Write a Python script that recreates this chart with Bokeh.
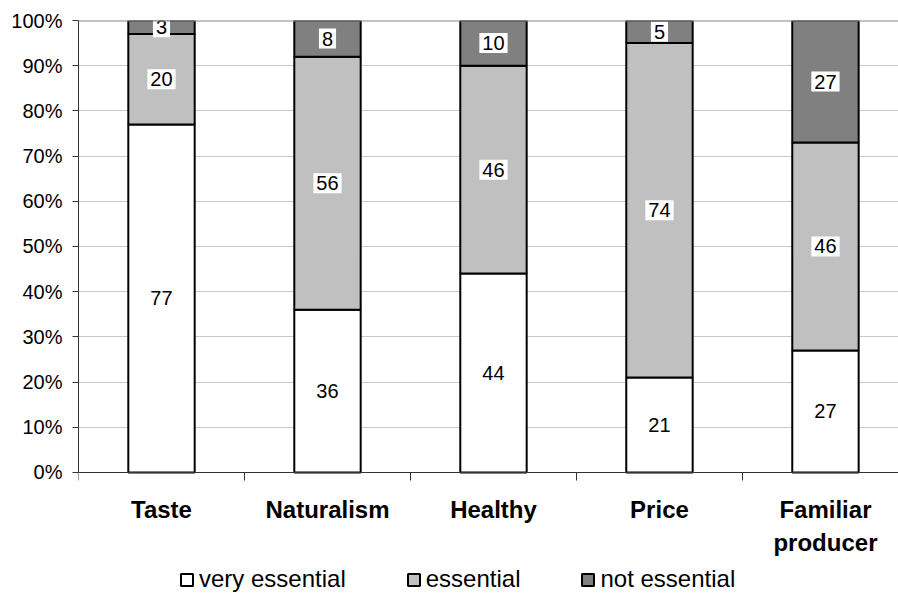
from bokeh.plotting import figure
from bokeh.models import (ColumnDataSource, Range1d, FixedTicker, PrintfTickFormatter,
                          Legend, LegendItem, Span)
from bokeh.core.properties import value
from bokeh.embed import file_html
from bokeh.resources import INLINE

# ---- data ----
categories = ["Taste", "Naturalism", "Healthy", "Price", "Familiar\nproducer"]
very_essential = [77, 36, 44, 21, 27]
essential = [20, 56, 46, 74, 46]
not_essential = [3, 8, 10, 5, 27]
series_names = ["very essential", "essential", "not essential"]
series_keys = ["very_ess", "ess", "not_ess"]
colors = ["#FFFFFF", "#C0C0C0", "#808080"]
y_ticks = list(range(0, 101, 10))

FONT = "Liberation Sans"

x = list(range(len(categories)))
source = ColumnDataSource(dict(x=x, very_ess=very_essential, ess=essential, not_ess=not_essential))

# frame spans the whole lower part of the picture; the value axis covers 0..100 only
p = figure(width=898, height=594, output_backend="svg", toolbar_location=None,
           x_range=Range1d(-0.5, 4.44), y_range=Range1d(-27.0, 100),
           min_border_left=78, min_border_top=20, min_border_right=0, min_border_bottom=0)
p.outline_line_color = None
p.background_fill_color = "white"

renderers = p.vbar_stack(series_keys, x="x", width=0.4, fill_color=colors,
                         line_color="black", line_width=2, source=source)

# top line
p.add_layout(Span(location=y_ticks[-1], dimension="width", line_color="#888888", line_width=2))

# data labels
lx, ly, lt = [], [], []
for i in range(len(categories)):
    bottom = 0
    for vals in (very_essential, essential, not_essential):
        v = vals[i]
        lx.append(x[i]); ly.append(bottom + v / 2); lt.append(str(v))
        bottom += v
lsrc = ColumnDataSource(dict(x=lx, y=ly, t=lt))
p.text(x="x", y="y", text="t", source=lsrc, text_align="center", text_baseline="middle",
       text_font=value(FONT), text_font_size="20px", text_color="black",
       background_fill_color="white", padding=3)

# y axis
p.yaxis.ticker = FixedTicker(ticks=y_ticks)
p.yaxis.bounds = (y_ticks[0], y_ticks[-1])
p.yaxis.formatter = PrintfTickFormatter(format="%d%%")
p.yaxis.major_label_text_font = FONT
p.yaxis.major_label_text_font_size = "20px"
p.yaxis.major_label_text_color = "black"
p.yaxis.major_tick_out = 6
p.yaxis.major_tick_in = 0
p.yaxis.minor_tick_line_color = None
p.yaxis.major_label_standoff = 10
p.yaxis.axis_line_color = "#333333"
p.yaxis.major_tick_line_color = "#333333"

# x axis (drawn at the 0% line)
p.xaxis.fixed_location = y_ticks[0]
p.xaxis.ticker = FixedTicker(ticks=x, minor_ticks=[i - 0.5 for i in range(len(categories) + 1)])
p.xaxis.major_label_overrides = {i: c for i, c in zip(x, categories)}
p.xaxis.major_tick_out = 0
p.xaxis.major_tick_in = 0
p.xaxis.major_tick_line_color = None
p.xaxis.minor_tick_out = 8
p.xaxis.minor_tick_in = 0
p.xaxis.minor_tick_line_color = "#333333"
p.xaxis.axis_line_color = "#333333"
p.xaxis.major_label_standoff = 16
p.xaxis.major_label_text_font = FONT
p.xaxis.major_label_text_font_size = "24px"
p.xaxis.major_label_text_font_style = "bold"
p.xaxis.major_label_text_color = "black"

p.ygrid.ticker = FixedTicker(ticks=y_ticks)
p.ygrid.grid_line_color = "#C8C8C8"
p.xgrid.grid_line_color = None

legend = Legend(items=[LegendItem(label=n, renderers=[r]) for n, r in zip(series_names, renderers)],
                location=(101, 1), orientation="horizontal", margin=0,
                glyph_width=15, glyph_height=15, label_standoff=5, spacing=60, padding=0,
                border_line_color=None, background_fill_alpha=0,
                label_text_font=FONT, label_text_font_size="24px", label_text_color="black")
p.add_layout(legend, "center")

open("out.html", "w").write(file_html(p, INLINE))
